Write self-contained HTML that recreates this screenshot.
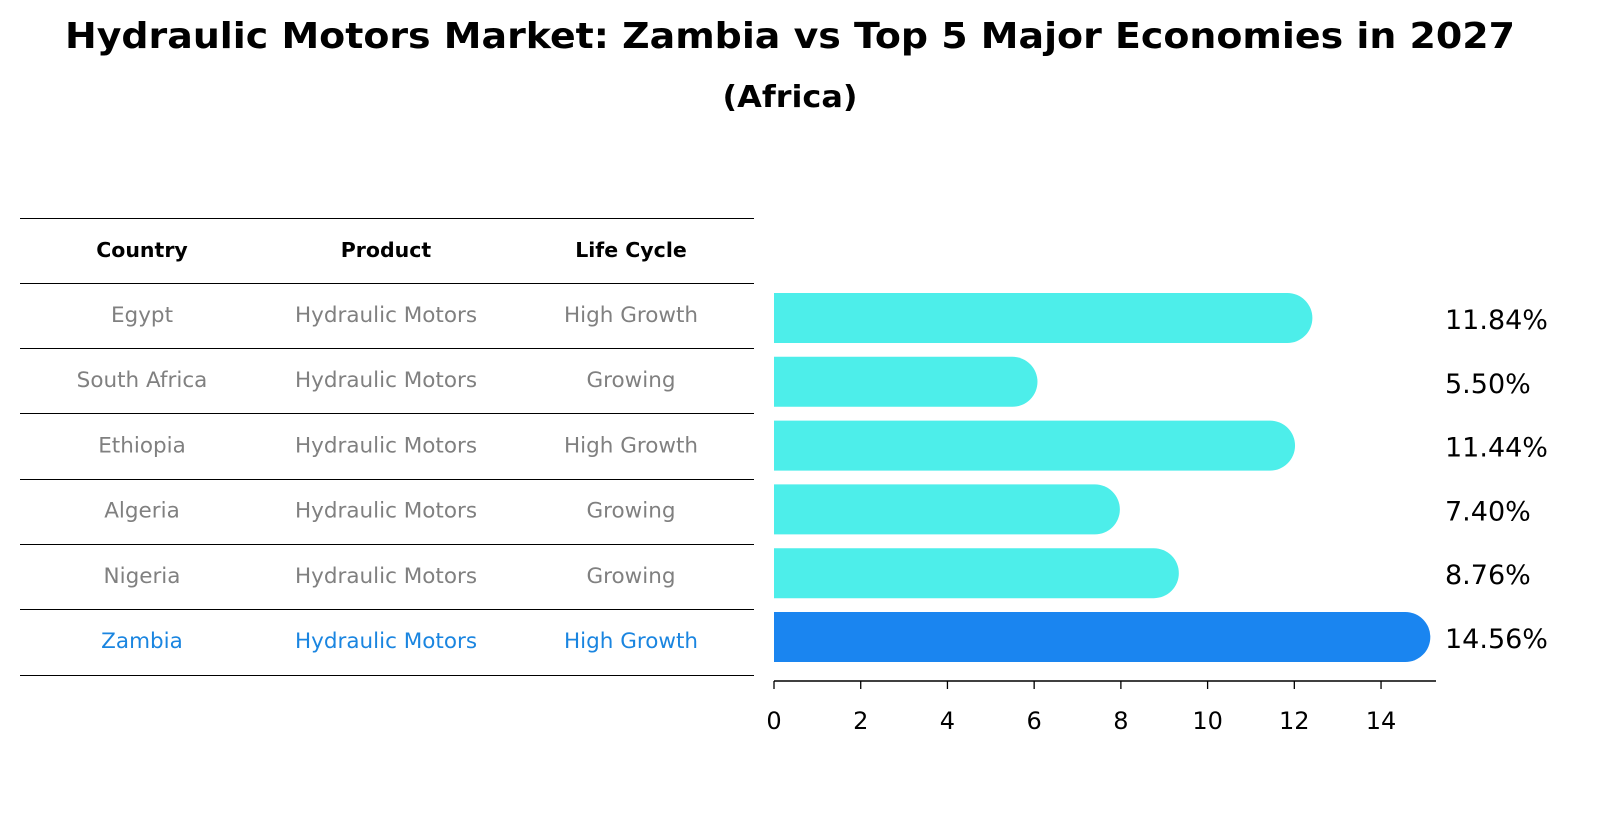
<!DOCTYPE html>
<html><head><meta charset="utf-8"><style>
body{margin:0;background:#fff;font-family:"DejaVu Sans","Liberation Sans",sans-serif}
</style></head><body>
<svg width="1604" height="823" xmlns="http://www.w3.org/2000/svg" style="font-family:'DejaVu Sans','Liberation Sans',sans-serif">
<text x="790" y="48" text-anchor="middle" font-size="36" font-weight="bold" textLength="1450" lengthAdjust="spacingAndGlyphs">Hydraulic Motors Market: Zambia vs Top 5 Major Economies in 2027</text>
<text x="790" y="107" text-anchor="middle" font-size="30" font-weight="bold" textLength="135" lengthAdjust="spacingAndGlyphs">(Africa)</text>
<g id="table"></g>
<g id="bars"></g>
<g id="axis"></g>
</svg>
<script>
const countries=["Egypt","South Africa","Ethiopia","Algeria","Nigeria","Zambia"];
const products=["Hydraulic Motors","Hydraulic Motors","Hydraulic Motors","Hydraulic Motors","Hydraulic Motors","Hydraulic Motors"];
const lifeCycles=["High Growth","Growing","High Growth","Growing","Growing","High Growth"];
const values=[11.84,5.50,11.44,7.40,8.76,14.56];
const ticks=[0,2,4,6,8,10,12,14];
const NS="http://www.w3.org/2000/svg";
function mk(t,a,p){const e=document.createElementNS(NS,t);for(const k in a)e.setAttribute(k,a[k]);p.appendChild(e);return e;}
const x=v=>774+v*43.36;
const rowY=i=>318+i*63.8;
const tbl=document.getElementById('table');
const lineYs=[218,283,348,413,479,544,609,675];
lineYs.forEach(y=>{const l=mk('line',{x1:20,x2:754,y1:y+0.5,y2:y+0.5,stroke:'#000','stroke-width':1,'shape-rendering':'crispEdges'},tbl);

});
const cx=[142,386,631];
["Country","Product","Life Cycle"].forEach((h,j)=>{const t=mk('text',{x:cx[j],y:257,'text-anchor':'middle','font-size':20.5,'font-weight':'bold'},tbl);t.textContent=h;

});
countries.forEach((c,i)=>{const col=c==="Zambia"?"#1a85e0":"#808080";
[c,products[i],lifeCycles[i]].forEach((s,j)=>{const t=mk('text',{x:cx[j],y:322+i*65.2,'text-anchor':'middle','font-size':21.5,fill:col},tbl);t.textContent=s;

});});
const bars=document.getElementById('bars');
const h=50,r=25;
values.forEach((v,i)=>{const yc=rowY(i),xe=x(v);const col=countries[i]==="Zambia"?"#1a85f0":"#4deeea";
const p=mk('path',{d:`M774 ${yc-h/2} H${xe} A${r} ${r} 0 0 1 ${xe} ${yc+h/2} H774 Z`,fill:col},bars);


const t=mk('text',{x:1445,y:yc+11,'font-size':27},bars);t.textContent=v.toFixed(2)+'%';

});
const ax=document.getElementById('axis');
mk('line',{x1:774,x2:1436,y1:681,y2:681,stroke:'#000','stroke-width':1.5},ax);
ticks.forEach(v=>{mk('line',{x1:x(v),x2:x(v),y1:681,y2:689,stroke:'#000','stroke-width':1.3},ax);
const t=mk('text',{x:x(v),y:729,'text-anchor':'middle','font-size':24},ax);t.textContent=v;

});
</script>
</body></html>
